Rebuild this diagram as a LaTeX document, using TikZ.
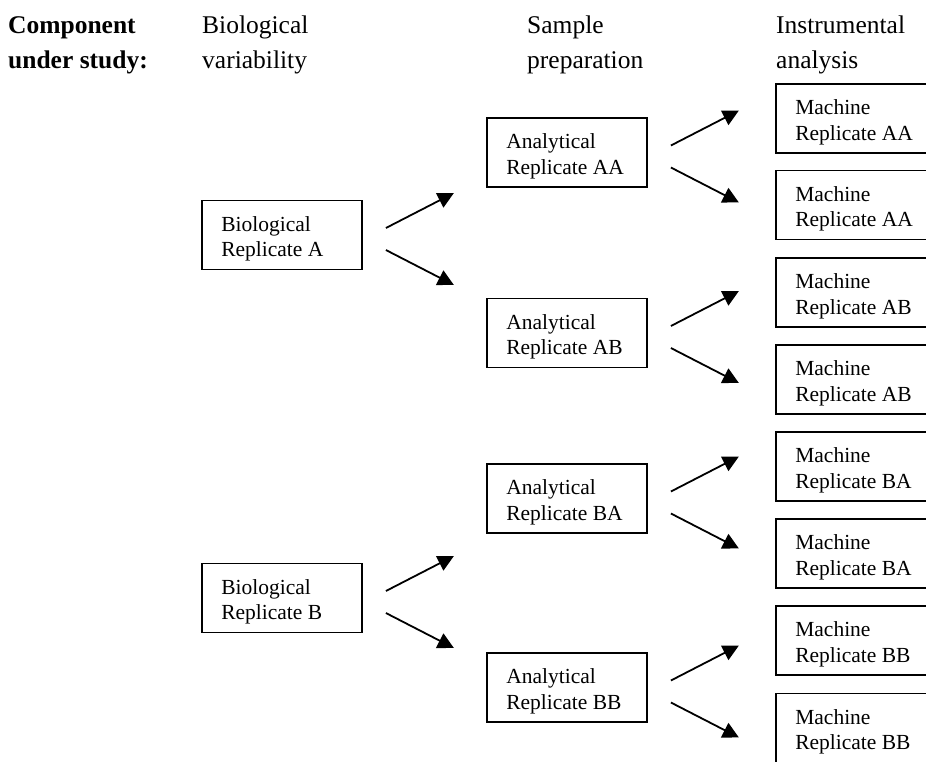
\documentclass[tikz,border=0pt]{standalone}
\usepackage{fontspec}
\setmainfont{Liberation Serif}
\usetikzlibrary{arrows.meta,calc}
\tikzset{
  box/.style={draw, line width=1.8pt, minimum width=160pt, minimum height=69pt, inner sep=0pt, anchor=center},
  boxtext/.style={font=\fontsize{21.5}{25.5}\selectfont, align=left, anchor=west, inner sep=0pt},
  hdr/.style={font=\fontsize{25.5}{35}\selectfont, align=left, anchor=base west, inner sep=0pt},
  hdrb/.style={hdr, font=\fontsize{25.5}{35}\selectfont\bfseries},
  arr/.style={line width=1.8pt, -{Triangle[length=16pt,width=16pt]}},
}
\newcommand\mkbox[3]{%
  \node[box] (#1) at (#2) {};
  \node[boxtext] (#1t) at ($(#1.west)+(20,4)$) {#3};
}
\newcommand\mkarrows[1]{%
  \coordinate (#1us) at ($(#1.east)+(23,-7)$);
  \coordinate (#1ue) at ($(#1.east)+(91,-42)$);
  \coordinate (#1ds) at ($(#1.east)+(23,15)$);
  \coordinate (#1de) at ($(#1.east)+(91,50)$);
  \draw[arr] (#1us) -- (#1ue);
  \draw[arr] (#1ds) -- (#1de);
}
\begin{document}
\begin{tikzpicture}[x=1pt,y=-1pt]
\useasboundingbox (0,0) rectangle (926,761);
\clip (0,0) rectangle (926,761);
\fill[white] (0,0) rectangle (926,761);
% headers
\node[hdrb] (h1a) at (8,33) {Component};
\node[hdrb] (h1b) at (8,68) {under study:};
\node[hdr] (h2a) at (202,33) {Biological};
\node[hdr] (h2b) at (202,68) {variability};
\node[hdr] (h3a) at (527,33) {Sample};
\node[hdr] (h3b) at (527,68) {preparation};
\node[hdr] (h4a) at (776,33) {Instrumental};
\node[hdr] (h4b) at (776,68) {analysis};
% biological
\mkbox{bA}{282,235}{Biological\\Replicate A}
\mkbox{bB}{282,598}{Biological\\Replicate B}
% analytical
\mkbox{aAA}{567,152.5}{Analytical\\Replicate AA}
\mkbox{aAB}{567,333}{Analytical\\Replicate AB}
\mkbox{aBA}{567,498.5}{Analytical\\Replicate BA}
\mkbox{aBB}{567,687.5}{Analytical\\Replicate BB}
% machine
\mkbox{m1}{856,118.5}{Machine\\Replicate AA}
\mkbox{m2}{856,205}{Machine\\Replicate AA}
\mkbox{m3}{856,292.5}{Machine\\Replicate AB}
\mkbox{m4}{856,379.5}{Machine\\Replicate AB}
\mkbox{m5}{856,466.5}{Machine\\Replicate BA}
\mkbox{m6}{856,553.5}{Machine\\Replicate BA}
\mkbox{m7}{856,640.5}{Machine\\Replicate BB}
\mkbox{m8}{856,728}{Machine\\Replicate BB}
% arrows
\mkarrows{bA}
\mkarrows{bB}
\mkarrows{aAA}
\mkarrows{aAB}
\mkarrows{aBA}
\mkarrows{aBB}
\end{tikzpicture}
\end{document}
